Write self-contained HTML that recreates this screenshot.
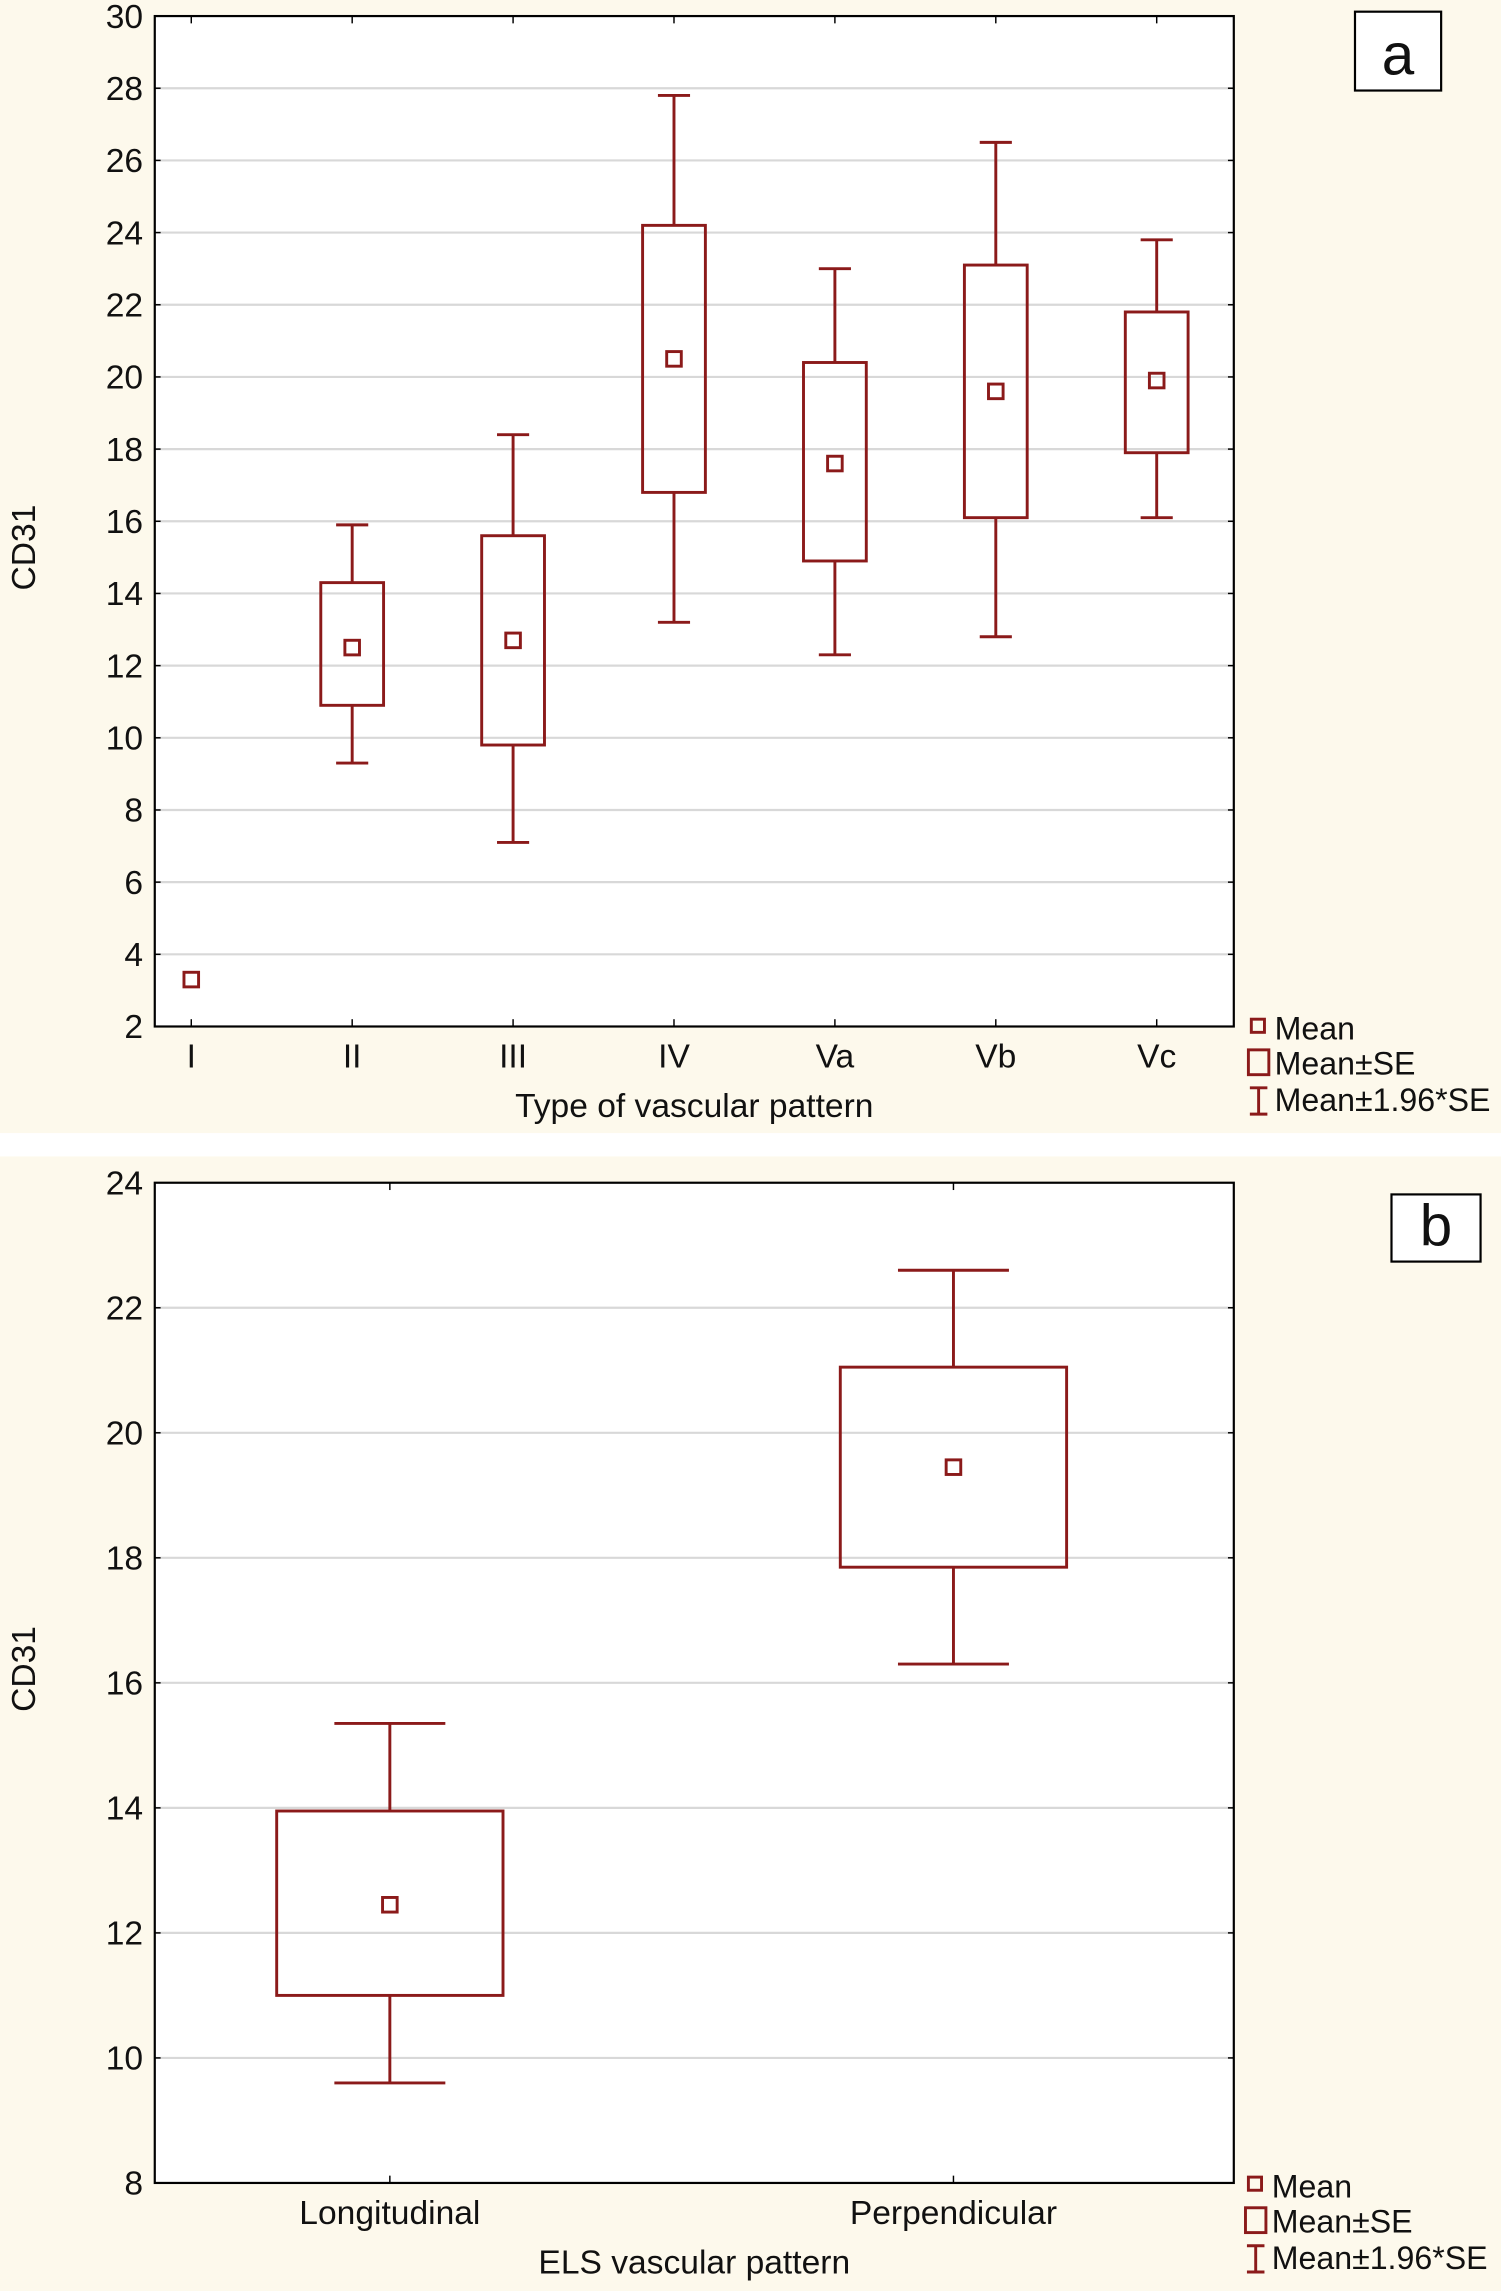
<!DOCTYPE html>
<html><head><meta charset="utf-8">
<style>
html,body{margin:0;padding:0;background:#fff;}
svg{display:block;}
text{font-family:"Liberation Sans Narrow","Liberation Sans",sans-serif;fill:#111;}
</style></head>
<body>
<svg id="chart" width="1501" height="2291" viewBox="0 0 1028 1569" preserveAspectRatio="none" xmlns="http://www.w3.org/2000/svg">
  <rect x="0" y="0" width="1028" height="776" fill="#fdf9ec"/>
  <rect x="0" y="792" width="1028" height="777" fill="#fdf9ec"/>
  <g id="pa"></g>
  <g id="pb"></g>
</svg>
<script>
const catsA = ["I","II","III","IV","Va","Vb","Vc"];
const meanA = [3.3,12.5,12.7,20.5,17.6,19.6,19.9];
const seLoA = [null,10.9,9.8,16.8,14.9,16.1,17.9];
const seHiA = [null,14.3,15.6,24.2,20.4,23.1,21.8];
const ciLoA = [null,9.3,7.1,13.2,12.3,12.8,16.1];
const ciHiA = [null,15.9,18.4,27.8,23.0,26.5,23.8];
const ticksA = [2,4,6,8,10,12,14,16,18,20,22,24,26,28,30];

const catsB = ["Longitudinal","Perpendicular"];
const meanB = [12.45,19.45];
const seLoB = [11.0,17.85];
const seHiB = [13.95,21.05];
const ciLoB = [9.6,16.3];
const ciHiB = [15.35,22.6];
const ticksB = [8,10,12,14,16,18,20,22,24];

const NS="http://www.w3.org/2000/svg";
const RED="#8b1a1a";
function mk(parent,tag,attrs,txt){const e=document.createElementNS(NS,tag);for(const k in attrs)e.setAttribute(k,attrs[k]);if(txt!==undefined)e.textContent=txt;parent.appendChild(e);return e;}

function panel(g,cfg){
  const {L,R,T,B,ymin,ymax,ticks,cats,x0,step,bw,mean,seLo,seHi,ciLo,ciHi,capW,xTitle,yTitleY,letter,lb,leg}=cfg;
  const y=v=>B-(v-ymin)/(ymax-ymin)*(B-T);
  const x=i=>x0+i*step;
  const bg=mk(g,'rect',{x:L,y:T,width:R-L,height:B-T,fill:'#fff'});
  
  
  ticks.forEach(t=>{
    if(t!==ymin&&t!==ymax){const gl=mk(g,'line',{x1:L,x2:R,y1:y(t),y2:y(t),stroke:'#d8d8d8','stroke-width':1.5});
      
      }
    const tk=mk(g,'line',{x1:L,x2:L+4,y1:y(t),y2:y(t),stroke:'#000','stroke-width':1});
    
    
    const tk2=mk(g,'line',{x1:R-4,x2:R,y1:y(t),y2:y(t),stroke:'#000','stroke-width':1});
    
    
    const lab=mk(g,'text',{x:L-8,y:y(t)+8,'text-anchor':'end','font-size':23},String(t));
    
    
  });
  cats.forEach((c,i)=>{
    const t1=mk(g,'line',{x1:x(i),x2:x(i),y1:B,y2:B-5,stroke:'#000','stroke-width':1});
    
    
    const t2=mk(g,'line',{x1:x(i),x2:x(i),y1:T,y2:T+5,stroke:'#000','stroke-width':1});
    
    
    const lab=mk(g,'text',{x:x(i),y:B+28,'text-anchor':'middle','font-size':23},c);
    
    
    if(ciLo[i]!==null){
      const w=mk(g,'path',{d:`M${x(i)},${y(ciHi[i])}V${y(seHi[i])}M${x(i)},${y(seLo[i])}V${y(ciLo[i])}M${x(i)-capW},${y(ciHi[i])}H${x(i)+capW}M${x(i)-capW},${y(ciLo[i])}H${x(i)+capW}`,stroke:RED,'stroke-width':2,fill:'none'});
      
      
    }
    if(seLo[i]!==null){
      const b=mk(g,'rect',{x:x(i)-bw/2,y:y(seHi[i]),width:bw,height:y(seLo[i])-y(seHi[i]),stroke:RED,'stroke-width':2,fill:'none'});
      
      
    }
    const m=mk(g,'rect',{x:x(i)-5,y:y(mean[i])-5,width:10,height:10,stroke:RED,'stroke-width':2,fill:'none'});
    
    
  });
  const fr=mk(g,'rect',{x:L,y:T,width:R-L,height:B-T,stroke:'#000','stroke-width':1.5,fill:'none'});
  
  
  const xt=mk(g,'text',{x:(L+R)/2,y:B+62,'text-anchor':'middle','font-size':23},xTitle);
  
  
  const yt=mk(g,'text',{x:0,y:0,'text-anchor':'middle','font-size':23,transform:`translate(24,${yTitleY}) rotate(-90)`},'CD31');
  
  
  const lbr=mk(g,'rect',{x:lb[0],y:lb[1],width:lb[2],height:lb[3],fill:'#fff',stroke:'#000','stroke-width':1.5});
  
  
  const lbt=mk(g,'text',{x:lb[0]+lb[2]/2,y:lb[1]+lb[3]-11,'text-anchor':'middle','font-size':40},letter);
  
  
  const [lx,ly]=leg;
  const l1=mk(g,'rect',{x:lx+2,y:ly-6,width:9,height:9,stroke:RED,'stroke-width':2,fill:'none'});
  
  
  const l2=mk(g,'rect',{x:lx,y:ly+15,width:14,height:17,stroke:RED,'stroke-width':2,fill:'none'});
  
  
  const l3=mk(g,'path',{d:`M${lx+1},${ly+41}H${lx+13}M${lx+7},${ly+41}V${ly+59}M${lx+1},${ly+59}H${lx+13}`,stroke:RED,'stroke-width':2,fill:'none'});
  
  
  [['Mean',ly+8],['Mean±SE',ly+32],['Mean±1.96*SE',ly+57]].forEach(([s,yy])=>{
    const t=mk(g,'text',{x:lx+18,y:yy,'font-size':22},s);
    
    
  });
}

panel(document.getElementById('pa'),{L:106,R:845,T:11,B:703,ymin:2,ymax:30,ticks:ticksA,cats:catsA,x0:131,step:110.2,bw:43,
  mean:meanA,seLo:seLoA,seHi:seHiA,ciLo:ciLoA,ciHi:ciHiA,capW:11,xTitle:'Type of vascular pattern',yTitleY:375,letter:'a',lb:[928,8,59,54],leg:[855,704]});
panel(document.getElementById('pb'),{L:106,R:845,T:810,B:1495,ymin:8,ymax:24,ticks:ticksB,cats:catsB,x0:267,step:386,bw:155,
  mean:meanB,seLo:seLoB,seHi:seHiB,ciLo:ciLoB,ciHi:ciHiB,capW:38,xTitle:'ELS vascular pattern',yTitleY:1143,letter:'b',lb:[953,818,61,46],leg:[853,1497]});
</script>
</body></html>
